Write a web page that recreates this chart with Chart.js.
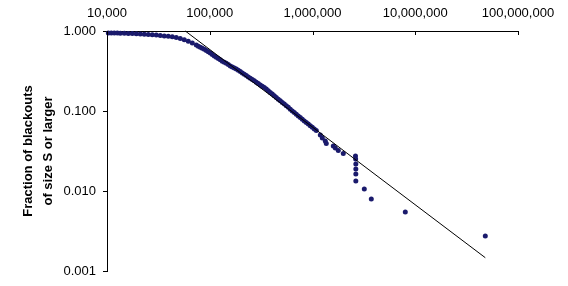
<!DOCTYPE html>
<html>
<head>
<meta charset="utf-8">
<script src="https://cdn.jsdelivr.net/npm/chart.js@4.4.1/dist/chart.umd.min.js"></script>
<style>
  html, body { margin: 0; padding: 0; background: #fff; }
  #wrap { width: 568px; height: 286px; }
</style>
</head>
<body>
<div id="wrap"><canvas id="blackoutChart" width="568" height="286"></canvas></div>
<script>
// tick positions
const xTicks = [10000, 100000, 1000000, 10000000, 100000000];
const yTicks = [0.001, 0.01, 0.1, 1];

// blackout size S (customers)
const blackoutSizes = [
  10300, 11010, 11780, 12600, 13470, 14740, 16120, 17630, 19290, 21100,
  23070, 25230, 27600, 30190, 33020, 36120, 39500, 43210, 47260, 51690,
  56540, 61840, 67650, 73990, 77370, 80910, 84620, 88510, 92560, 96810,
  101250, 105900, 110750, 115800, 121130, 126700, 132500, 138600, 144950, 151500,
  158490, 165800, 173360, 181300, 189650, 198300, 207430, 216900, 226880, 237300,
  248120, 259500, 271420, 283900, 296880, 310500, 324700, 339600, 355200, 371400,
  388500, 406300, 424900, 444400, 464800, 486000, 508300, 531600, 555900, 581500,
  607900, 636000, 665200, 695700, 727500, 760900, 795600, 832300, 870300, 910300,
  951900, 995400, 1041000, 1089000,
  1191000, 1246000, 1332000, 1362000, 1594000, 1667000, 1783000, 1994000,
  2620000, 2630000, 2640000, 2640000, 2640000, 2640000,
  3192000, 3735000, 8000000, 48050000
];

// fraction of blackouts of size S or larger
const blackoutFractions = [
  0.944, 0.944, 0.941, 0.941, 0.939, 0.936, 0.933, 0.928, 0.923, 0.917,
  0.912, 0.904, 0.897, 0.889, 0.879, 0.869, 0.858, 0.846, 0.827, 0.804,
  0.776, 0.743, 0.708, 0.668, 0.647, 0.627, 0.610, 0.591, 0.571, 0.550,
  0.529, 0.508, 0.488, 0.470, 0.453, 0.437, 0.420, 0.408, 0.394, 0.380,
  0.366, 0.355, 0.345, 0.335, 0.323, 0.311, 0.299, 0.288, 0.277, 0.267,
  0.256, 0.247, 0.238, 0.228, 0.220, 0.212, 0.204, 0.196, 0.188, 0.179,
  0.170, 0.163, 0.155, 0.148, 0.140, 0.134, 0.128, 0.122, 0.116, 0.111,
  0.105, 0.100, 0.0958, 0.0912, 0.0868, 0.0829, 0.0790, 0.0752, 0.0718, 0.0686,
  0.0655, 0.0626, 0.0597, 0.0571,
  0.0501, 0.0460, 0.0422, 0.0393, 0.0365, 0.0345, 0.0321, 0.0294,
  0.0274, 0.0251, 0.0218, 0.0188, 0.0163, 0.0133,
  0.0106, 0.00794, 0.00546, 0.00274
];

// power-law fit line end points
const fitSizes = [57800, 48060000];
const fitFractions = [1.0, 0.001466];

const fontFamily = 'Arial, "Liberation Sans", sans-serif';

// Excel style ticks pointing into the plot from the top axis
const innerTicks = {
  id: 'innerTicks',
  afterDraw(chart) {
    const { ctx, scales: { x } } = chart;
    ctx.save();
    ctx.strokeStyle = '#000';
    ctx.lineWidth = 1;
    xTicks.forEach((v) => {
      const px = Math.round(x.getPixelForValue(v)) + 0.5;
      ctx.beginPath();
      ctx.moveTo(px, x.bottom);
      ctx.lineTo(px, x.bottom + 4);
      ctx.stroke();
    });
    ctx.restore();
  }
};

const ctx = document.getElementById('blackoutChart').getContext('2d');

new Chart(ctx, {
  type: 'scatter',
  data: {
    datasets: [
      {
        type: 'line',
        label: 'Fit',
        data: fitSizes.map((s, i) => ({ x: s, y: fitFractions[i] })),
        borderColor: '#000',
        borderWidth: 1,
        pointRadius: 0,
        fill: false,
        clip: false,
      },
      {
        label: 'Blackouts',
        data: blackoutSizes.map((s, i) => ({ x: s, y: blackoutFractions[i] })),
        backgroundColor: '#1a1a6c',
        borderColor: '#1a1a6c',
        borderWidth: 0,
        pointRadius: 2.5,
        clip: false,
      },
    ],
  },
  options: {
    responsive: false,
    animation: false,
    devicePixelRatio: 1,
    layout: { padding: { left: 10, right: 50, top: 0, bottom: 15 } },
    plugins: {
      legend: { display: false },
      tooltip: { enabled: false },
    },
    scales: {
      x: {
        type: 'logarithmic',
        position: 'top',
        min: 10000,
        max: 100000000,
        afterBuildTicks: (scale) => {
          scale.ticks = xTicks.map((v) => ({ value: v }));
        },
        afterFit: (scale) => {
          scale.height = 31;
        },
        ticks: {
          autoSkip: false,
          maxRotation: 0,
          padding: 2,
          color: '#000',
          font: { family: fontFamily, size: 13 },
          callback: (v) => Number(v).toLocaleString('en-US'),
        },
        grid: { display: false },
        border: { display: true, color: '#000', width: 1 },
      },
      y: {
        type: 'logarithmic',
        min: 0.001,
        max: 1,
        afterBuildTicks: (scale) => {
          scale.ticks = yTicks.map((v) => ({ value: v }));
        },
        afterFit: (scale) => {
          scale.width = 97;
        },
        ticks: {
          autoSkip: false,
          padding: 7,
          color: '#000',
          font: { family: fontFamily, size: 13 },
          callback: (v) => Number(v).toFixed(3),
        },
        grid: {
          display: true,
          drawOnChartArea: false,
          drawTicks: true,
          tickLength: 4,
          color: '#000',
        },
        border: { display: true, color: '#000', width: 1 },
        title: {
          display: true,
          text: ['Fraction of blackouts', 'of size S or larger'],
          color: '#000',
          font: { family: fontFamily, size: 13, weight: 'bold', lineHeight: 1.5 },
          padding: { top: 9, bottom: 0 },
        },
      },
    },
  },
  plugins: [innerTicks],
});
</script>
</body>
</html>
